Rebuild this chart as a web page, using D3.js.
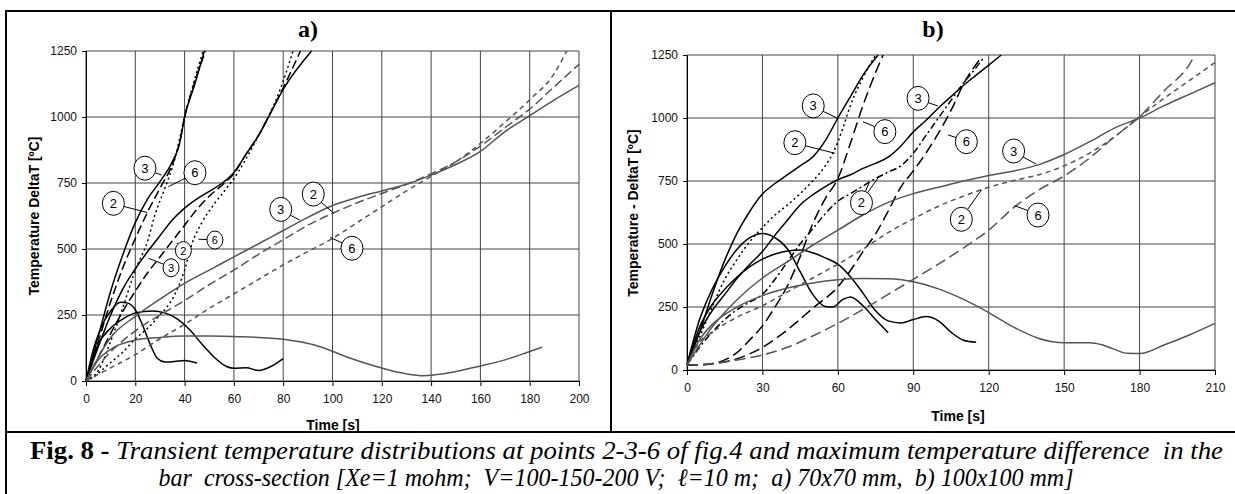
<!DOCTYPE html>
<html>
<head>
<meta charset="utf-8">
<script src="https://cdn.jsdelivr.net/npm/d3@7"></script>
<style>
  body { margin: 0; background: #fff; }
  text { font-family: "Liberation Sans", Arial, sans-serif; }
</style>
</head>
<body>
<div id="chart"></div>
<script>
// ---- data: [time s, temperature °C] ----
// panel a) 70x70 mm
var a200_p2 = [[0,0],[5,150],[10,300],[15,430],[20,540],[25,640],[30,730],[35,820],[38,905],[40,1000],[44,1130],[48.5,1250]];
var a200_p3 = [[0,0],[5,170],[10,340],[15,480],[20,600],[25,690],[30,755],[35,830],[38,900],[40,1000],[44,1120],[48,1250]];
var a200_p6 = [[0,0],[5,40],[10,150],[15,280],[20,420],[25,530],[28,630],[32,730],[36,840],[40,1000],[44,1140],[47.5,1250]];
var a200_dT = [[0,0],[3,120],[6,200],[10,265],[14,298],[17,295],[20,270],[23,210],[26,140],[29,85],[32,72],[36,74],[40,78],[45,68]];

var a150_p2 = [[0,0],[5,90],[10,180],[15,265],[20,340],[25,410],[30,470],[35,530],[40,590],[45,650],[50,700],[55,740],[60,785],[65,860],[70,930],[74,1000],[80,1110],[87,1250]];
var a150_p3 = [[0,0],[5,130],[10,250],[15,350],[20,425],[25,490],[30,550],[35,610],[40,655],[45,690],[50,718],[55,748],[60,790],[65,860],[70,930],[74,1000],[80,1105],[91.5,1250]];
var a150_p6 = [[0,0],[5,30],[10,70],[15,110],[20,160],[25,200],[30,250],[35,310],[40,420],[43,520],[47,600],[52,670],[57,730],[62,795],[66,860],[70,930],[74,1000],[79,1110],[84,1250]];
var a150_dT = [[0,0],[5,140],[10,200],[15,235],[20,258],[27,265],[32,258],[37,235],[42,195],[47,140],[52,90],[57,55],[60,48],[65,50],[70,40],[75,55],[80,85]];

var a100_p2 = [[0,0],[10,110],[20,190],[30,250],[40,305],[50,365],[60,420],[70,480],[80,535],[90,590],[100,635],[110,675],[120,710],[130,745],[140,785],[150,830],[160,890],[170,960],[180,1030],[190,1115],[200,1200]];
var a100_p3 = [[0,0],[10,165],[20,245],[30,310],[40,370],[50,420],[60,470],[70,520],[80,570],[90,620],[100,665],[110,695],[120,720],[130,745],[140,780],[150,820],[160,870],[170,945],[180,1005],[190,1065],[200,1120]];
var a100_p6 = [[0,0],[5,25],[10,50],[20,100],[30,160],[40,215],[50,275],[60,330],[70,385],[80,440],[90,490],[100,540],[110,600],[120,660],[130,720],[140,775],[150,830],[160,900],[170,980],[180,1065],[190,1165],[195,1250]];
var a100_dT = [[0,0],[5,80],[10,120],[20,155],[30,165],[40,170],[50,170],[62,168],[80,158],[95,130],[107,87],[120,49],[130,27],[137,20],[146,29],[160,57],[170,80],[180,112],[185,128]];

// panel b) 100x100 mm
var b200_p2 = [[0,20],[5,130],[10,250],[15,360],[20,440],[25,510],[30,565],[35,615],[40,655],[45,700],[50,750],[55,810],[58,860],[60,905],[62,960],[65,1050],[70,1160],[75,1250]];
var b200_p3 = [[0,20],[5,150],[10,300],[15,435],[20,545],[25,630],[30,698],[35,740],[40,775],[45,810],[50,845],[55,910],[60,1000],[65,1085],[70,1170],[76,1250]];
var b200_p6 = [[0,20],[5,20],[10,25],[15,40],[20,70],[25,120],[30,175],[35,250],[40,335],[45,450],[50,580],[55,680],[60,760],[65,900],[70,1050],[75,1180],[78,1250]];
var b200_dT = [[0,20],[5,200],[10,320],[15,410],[20,480],[25,525],[30,542],[35,525],[40,480],[45,390],[50,300],[55,252],[58,250],[62,280],[65,290],[70,255],[75,200],[80,148]];

var b150_p2 = [[0,20],[5,90],[10,150],[15,200],[20,240],[25,270],[30,300],[35,360],[40,430],[45,500],[50,560],[55,620],[60,670],[65,700],[70,730],[75,760],[80,785],[85,810],[90,860],[95,930],[100,1000],[105,1070],[110,1140],[115,1200],[118,1240]];
var b150_p3 = [[0,20],[5,150],[10,235],[15,300],[20,365],[25,420],[30,470],[35,535],[40,595],[45,655],[50,695],[55,728],[60,755],[65,775],[70,800],[75,820],[80,845],[85,888],[90,945],[95,990],[100,1040],[105,1085],[110,1130],[115,1170],[120,1210],[125,1250]];
var b150_p6 = [[0,20],[10,25],[20,45],[30,90],[40,160],[50,245],[60,330],[65,395],[70,470],[75,540],[80,630],[85,725],[90,790],[95,860],[100,940],[105,1030],[110,1135],[117,1240]];
var b150_dT = [[0,20],[5,170],[10,260],[15,320],[20,370],[25,410],[30,440],[35,460],[40,472],[45,476],[50,465],[55,445],[60,420],[65,370],[70,305],[75,235],[80,195],[85,187],[90,200],[95,212],[100,195],[105,150],[110,118],[115,110]];

var b100_p2 = [[0,20],[5,110],[10,150],[20,210],[30,255],[40,310],[50,365],[60,420],[70,480],[80,545],[90,600],[100,650],[110,690],[120,725],[130,752],[140,775],[150,810],[160,860],[170,925],[180,1005],[190,1080],[200,1150],[210,1220]];
var b100_p3 = [[0,20],[10,170],[20,280],[30,365],[40,430],[50,495],[60,555],[70,615],[80,665],[90,700],[100,725],[110,750],[120,772],[130,790],[140,815],[150,855],[160,905],[170,960],[180,1000],[190,1050],[200,1095],[210,1140]];
var b100_p6 = [[0,20],[10,25],[20,40],[30,60],[40,90],[50,135],[60,185],[70,240],[80,300],[90,360],[100,420],[110,485],[120,555],[130,645],[140,715],[150,770],[160,840],[170,925],[180,1005],[190,1110],[200,1215],[202,1250]];
var b100_dT = [[0,20],[5,120],[10,180],[20,250],[30,295],[40,325],[50,345],[60,358],[70,363],[80,362],[90,350],[100,322],[110,280],[120,228],[130,170],[140,125],[150,108],[160,108],[165,100],[170,82],[175,66],[180,65],[190,100],[200,140],[210,185]];

// tick values
var aTimeTicks = d3.range(0, 201, 20);
var bTimeTicks = d3.range(0, 211, 30);
var tempTicks = [0, 250, 500, 750, 1000, 1250];

// point labels: [text, label pos, leader end(s), radius]
var aLabels = [
  ["3", [23.9, 806], [[30.7, 780]], 11],
  ["6", [44.2, 789], [[33.4, 736]], 11],
  ["2", [11.1, 673], [[24.9, 638]], 11],
  ["2", [39.5, 494], [[36.8, 521]], 8],
  ["3", [34.5, 429], [[25.3, 465]], 8],
  ["6", [52.3, 534], [[45.6, 537]], 8],
  ["3", [79, 650], [[86.7, 610]], 11],
  ["2", [92.2, 708], [[100.6, 635]], 11],
  ["6", [107.9, 503], [[99, 544]], 11]
];
var bLabels = [
  ["3", [50.2, 1048], [[59.9, 999]], 11],
  ["2", [42.9, 902], [[58.8, 860]], 11],
  ["6", [78.7, 946], [[70, 985]], 11],
  ["3", [91.9, 1078], [[99.7, 1048]], 11],
  ["2", [69.4, 664], [[76.5, 770], [72.5, 745]], 11],
  ["6", [111.1, 906], [[103.8, 933]], 11],
  ["3", [129.9, 869], [[138.9, 817]], 11],
  ["2", [109.1, 598], [[117.1, 714]], 11],
  ["6", [139.6, 615], [[130.3, 652]], 11]
];

// ---- drawing ----
var W = 1235, H = 494;
var svg = d3.select("#chart").append("svg")
  .attr("width", W).attr("height", H)
  .style("background", "#fff");

var BLACK = "#000", GREY = "#555";
var LONG = "9,4", DOT = "2,3", SHORT = "5,4", DASHDOT = "7,3,2,3", LONGG = "11,5";

function drawPanel(cfg) {
  var x = d3.scaleLinear().domain(cfg.xDomain).range(cfg.xRange);
  var y = d3.scaleLinear().domain([0, 1250]).range(cfg.yRange);
  var g = svg.append("g");

  // grid
  g.selectAll(".vg").data(cfg.xTicks).enter().append("line")
    .attr("x1", d => x(d)).attr("x2", d => x(d))
    .attr("y1", y(0)).attr("y2", y(1250))
    .attr("stroke", "#444").attr("stroke-width", 1);
  g.selectAll(".hg").data(tempTicks).enter().append("line")
    .attr("x1", x(cfg.xDomain[0])).attr("x2", x(cfg.xDomain[1]))
    .attr("y1", d => y(d)).attr("y2", d => y(d))
    .attr("stroke", "#444").attr("stroke-width", 1);

  // axes
  g.append("g")
    .attr("transform", "translate(0," + y(0) + ")")
    .call(d3.axisBottom(x).tickValues(cfg.xTicks).tickFormat(d3.format("d")).tickSize(5).tickPadding(8))
    .call(a => a.select(".domain").attr("stroke", "#000"))
    .call(a => a.selectAll("text").style("font-size", "12px").attr("fill", "#111"));
  g.append("g")
    .attr("transform", "translate(" + x(0) + ",0)")
    .call(d3.axisLeft(y).tickValues(tempTicks).tickFormat(d3.format("d")).tickSize(4).tickPadding(5))
    .call(a => a.select(".domain").attr("stroke", "#000"))
    .call(a => a.selectAll("text").style("font-size", "12px").attr("fill", "#111"));

  // curves
  var line = d3.line().x(d => x(d[0])).y(d => y(d[1])).curve(d3.curveMonotoneX);
  cfg.series.forEach(function (s) {
    g.append("path").datum(s.data)
      .attr("d", line)
      .attr("fill", "none")
      .attr("stroke", s.color)
      .attr("stroke-width", 1.5)
      .attr("stroke-dasharray", s.dash || null);
  });

  // circled point labels
  cfg.labels.forEach(function (l) {
    var cx = x(l[1][0]), cy = y(l[1][1]), r = l[3];
    l[2].forEach(function (e) {
      var ex = x(e[0]), ey = y(e[1]);
      var ang = Math.atan2(ey - cy, ex - cx);
      g.append("line")
        .attr("x1", cx + Math.cos(ang) * r).attr("y1", cy + Math.sin(ang) * (r + 1))
        .attr("x2", ex).attr("y2", ey)
        .attr("stroke", "#000").attr("stroke-width", 1);
    });
    g.append("ellipse").attr("cx", cx).attr("cy", cy)
      .attr("rx", r).attr("ry", r + 1)
      .attr("fill", "#fff").attr("stroke", "#000").attr("stroke-width", 1);
    g.append("text").attr("x", cx).attr("y", cy)
      .attr("text-anchor", "middle").attr("dominant-baseline", "central")
      .style("font-size", r > 9 ? "13px" : "11px")
      .text(l[0]);
  });

  // titles
  g.append("text").attr("x", cfg.titleX).attr("y", 37)
    .attr("text-anchor", "middle")
    .style("font-family", "'Liberation Serif', 'Times New Roman', serif")
    .style("font-weight", "bold").style("font-size", "24px")
    .text(cfg.title);
  g.append("text")
    .attr("transform", "translate(" + cfg.yTitleX + "," + cfg.yTitleY + ") rotate(-90)")
    .attr("text-anchor", "middle").attr("dominant-baseline", "central")
    .style("font-weight", "bold").style("font-size", "14px")
    .text(cfg.yTitle);
  g.append("text").attr("x", cfg.xTitleX).attr("y", cfg.xTitleY)
    .attr("text-anchor", "middle")
    .style("font-weight", "bold").style("font-size", "14px")
    .text("Time [s]");
}

drawPanel({
  xDomain: [0, 200], xRange: [86, 579], yRange: [381, 51], xTicks: aTimeTicks,
  title: "a)", titleX: 308,
  yTitle: "Temperature DeltaT [ºC]", yTitleX: 34, yTitleY: 216,
  xTitleX: 333, xTitleY: 430,
  series: [
    {data: a200_p2, color: BLACK, dash: LONG},
    {data: a200_p3, color: BLACK},
    {data: a200_p6, color: BLACK, dash: DOT},
    {data: a200_dT, color: BLACK},
    {data: a150_p2, color: BLACK, dash: LONG},
    {data: a150_p3, color: BLACK},
    {data: a150_p6, color: BLACK, dash: DOT},
    {data: a150_dT, color: BLACK},
    {data: a100_p2, color: GREY, dash: LONG},
    {data: a100_p3, color: GREY},
    {data: a100_p6, color: GREY, dash: SHORT},
    {data: a100_dT, color: GREY}
  ],
  labels: aLabels
});

drawPanel({
  xDomain: [0, 210], xRange: [687, 1215], yRange: [370, 55], xTicks: bTimeTicks,
  title: "b)", titleX: 933,
  yTitle: "Temperature - DeltaT [ºC]", yTitleX: 633, yTitleY: 213,
  xTitleX: 958, xTitleY: 421,
  series: [
    {data: b200_p2, color: BLACK, dash: DOT},
    {data: b200_p3, color: BLACK},
    {data: b200_p6, color: BLACK, dash: LONGG},
    {data: b200_dT, color: BLACK},
    {data: b150_p2, color: BLACK, dash: DASHDOT},
    {data: b150_p3, color: BLACK},
    {data: b150_p6, color: BLACK, dash: LONGG},
    {data: b150_dT, color: BLACK},
    {data: b100_p2, color: GREY, dash: SHORT},
    {data: b100_p3, color: GREY},
    {data: b100_p6, color: GREY, dash: LONGG},
    {data: b100_dT, color: GREY}
  ],
  labels: bLabels
});

// frame
var frame = svg.append("g").attr("stroke", "#000").attr("stroke-width", 2);
frame.append("line").attr("x1", 5).attr("x2", W).attr("y1", 11).attr("y2", 11);
frame.append("line").attr("x1", 6).attr("x2", 6).attr("y1", 10).attr("y2", H);
frame.append("line").attr("x1", 611).attr("x2", 611).attr("y1", 10).attr("y2", 432);
frame.append("line").attr("x1", 5).attr("x2", W).attr("y1", 432).attr("y2", 432);

// caption
var serif = "'Liberation Serif', 'Times New Roman', serif";
var cap1 = svg.append("text").attr("x", 30).attr("y", 459)
  .style("font-family", serif).style("font-size", "25px");
cap1.append("tspan").style("font-weight", "bold").text("Fig. 8 - ");
cap1.append("tspan").style("font-style", "italic")
  .text("Transient temperature distributions at points 2-3-6 of fig.4 and maximum temperature difference\u00a0 in the");
cap1.attr("textLength", 1193).attr("lengthAdjust", "spacingAndGlyphs");

var cap2 = svg.append("text").attr("x", 616).attr("y", 486)
  .attr("text-anchor", "middle")
  .style("font-family", serif).style("font-size", "25px").style("font-style", "italic")
  .text("bar\u00a0 cross-section [Xe=1 mohm;\u00a0 V=100-150-200 V;\u00a0 \u2113=10 m;\u00a0 a) 70x70 mm,\u00a0 b) 100x100 mm]");
cap2.attr("textLength", 915).attr("lengthAdjust", "spacingAndGlyphs");
</script>
</body>
</html>
